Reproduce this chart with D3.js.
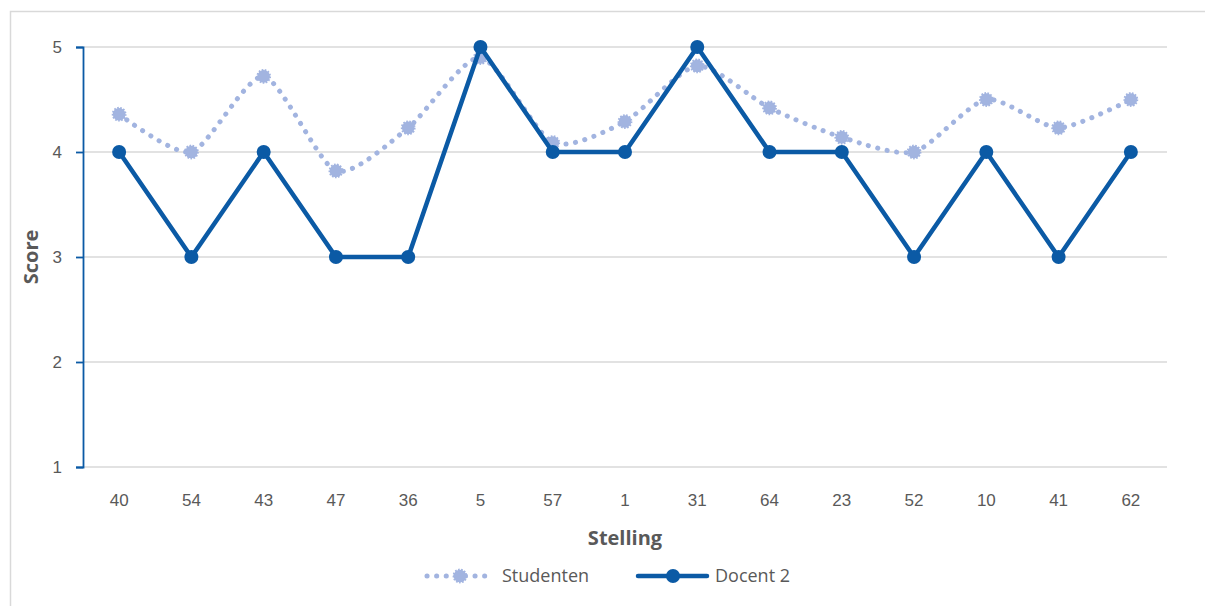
<!DOCTYPE html>
<html>
<head>
<meta charset="utf-8">
<script src="https://cdn.jsdelivr.net/npm/d3@7"></script>
<style>
  html, body { margin: 0; padding: 0; background: #fff; }
  svg { display: block; font-family: "Open Sans", "Noto Sans", sans-serif; }
</style>
</head>
<body>
<svg id="chart" width="1205" height="606"></svg>
<script>
// Statements in the order they were scored
const stellingen = ["40", "54", "43", "47", "36", "5", "57", "1", "31", "64", "23", "52", "10", "41", "62"];
// Mean student score per statement
const studenten = [4.36, 4.0, 4.72, 3.82, 4.23, 4.9, 4.09, 4.29, 4.82, 4.42, 4.14, 4.0, 4.5, 4.23, 4.5];
// Score given by the second teacher
const docent2 = [4, 3, 4, 3, 3, 5, 4, 4, 5, 4, 4, 3, 4, 3, 4];
const yTicks = [1, 2, 3, 4, 5];

const colStud = "#a2b4e0";
const colDoc = "#0b5aa5";
const textCol = "#595959";

const svg = d3.select("#chart");

// outer chart frame
svg.append("rect")
  .attr("x", 10.5).attr("y", 11.5)
  .attr("width", 1300).attr("height", 700)
  .attr("fill", "none").attr("stroke", "#d9d9d9").attr("stroke-width", 1.5);

const plot = { left: 83, right: 1167, top: 47, bottom: 467 };

const x = d3.scaleBand().domain(stellingen).range([plot.left, plot.right]);
const y = d3.scaleLinear().domain([1, 5]).range([plot.bottom, plot.top]);
const cx = d => x(d) + x.bandwidth() / 2;

// horizontal gridlines
svg.append("g").selectAll("line").data(yTicks).join("line")
  .attr("x1", plot.left).attr("x2", plot.right)
  .attr("y1", d => y(d)).attr("y2", d => y(d))
  .attr("stroke", "#d9d9d9").attr("stroke-width", 1.5);

// y axis
const yAxis = svg.append("g")
  .attr("transform", `translate(${plot.left},0)`)
  .call(d3.axisLeft(y).tickValues(yTicks).tickFormat(d3.format("d")).tickSize(7).tickPadding(14));
yAxis.select(".domain").attr("stroke", colDoc).attr("stroke-width", 1.8);
yAxis.selectAll(".tick line").attr("stroke", colDoc).attr("stroke-width", 1.8);
yAxis.selectAll(".tick text").attr("fill", textCol).style("font-size", "17px");

// x axis labels (no line, no ticks)
const xAxis = svg.append("g")
  .attr("transform", `translate(0,${plot.bottom})`)
  .call(d3.axisBottom(x).tickSize(0).tickPadding(27));
xAxis.select(".domain").remove();
xAxis.selectAll(".tick text").attr("fill", textCol).style("font-size", "17px");

// axis titles
svg.append("text")
  .attr("transform", "translate(38,257) rotate(-90)")
  .attr("text-anchor", "middle")
  .attr("fill", textCol).style("font-size", "20px").attr("font-weight", "bold")
  .text("Score");
svg.append("text")
  .attr("x", 625).attr("y", 545)
  .attr("text-anchor", "middle")
  .attr("fill", textCol).style("font-size", "20px").attr("font-weight", "bold")
  .text("Stelling");

// Studenten: smoothed dotted line
const studData = stellingen.map((s, i) => ({ s, v: studenten[i] }));
const smooth = d3.line().x(d => cx(d.s)).y(d => y(d.v)).curve(d3.curveCardinal.tension(0.3));
svg.append("path")
  .attr("d", smooth(studData))
  .attr("fill", "none").attr("stroke", colStud)
  .attr("stroke-width", 5).attr("stroke-linecap", "round")
  .attr("stroke-dasharray", "0.1 9.5");

function studMarker(sel) {
  sel.attr("r", 6.3).attr("fill", colStud)
    .attr("stroke", colStud).attr("stroke-width", 2.2)
    .attr("stroke-dasharray", "1.6 1.4");
}
svg.append("g").selectAll("circle").data(studData).join("circle")
  .attr("cx", d => cx(d.s)).attr("cy", d => y(d.v))
  .call(studMarker);

// Docent 2: straight solid line with markers
const docData = stellingen.map((s, i) => ({ s, v: docent2[i] }));
const straight = d3.line().x(d => cx(d.s)).y(d => y(d.v));
svg.append("path")
  .attr("d", straight(docData))
  .attr("fill", "none").attr("stroke", colDoc)
  .attr("stroke-width", 4.5).attr("stroke-linejoin", "round");
svg.append("g").selectAll("circle").data(docData).join("circle")
  .attr("cx", d => cx(d.s)).attr("cy", d => y(d.v))
  .attr("r", 7).attr("fill", colDoc);

// legend
const ly = 576;
const lg = svg.append("g");
lg.append("line").attr("x1", 427).attr("x2", 492).attr("y1", ly).attr("y2", ly)
  .attr("stroke", colStud).attr("stroke-width", 5).attr("stroke-linecap", "round")
  .attr("stroke-dasharray", "0.1 9.5");
lg.append("circle").attr("cx", 460).attr("cy", ly).call(studMarker);
lg.append("text").attr("x", 502).attr("y", ly + 6)
  .attr("fill", textCol).style("font-size", "18px").text("Studenten");

lg.append("line").attr("x1", 638).attr("x2", 707).attr("y1", ly).attr("y2", ly)
  .attr("stroke", colDoc).attr("stroke-width", 4.5).attr("stroke-linecap", "round");
lg.append("circle").attr("cx", 673).attr("cy", ly).attr("r", 7).attr("fill", colDoc);
lg.append("text").attr("x", 715).attr("y", ly + 6)
  .attr("fill", textCol).style("font-size", "18px").text("Docent 2");
</script>
</body>
</html>
